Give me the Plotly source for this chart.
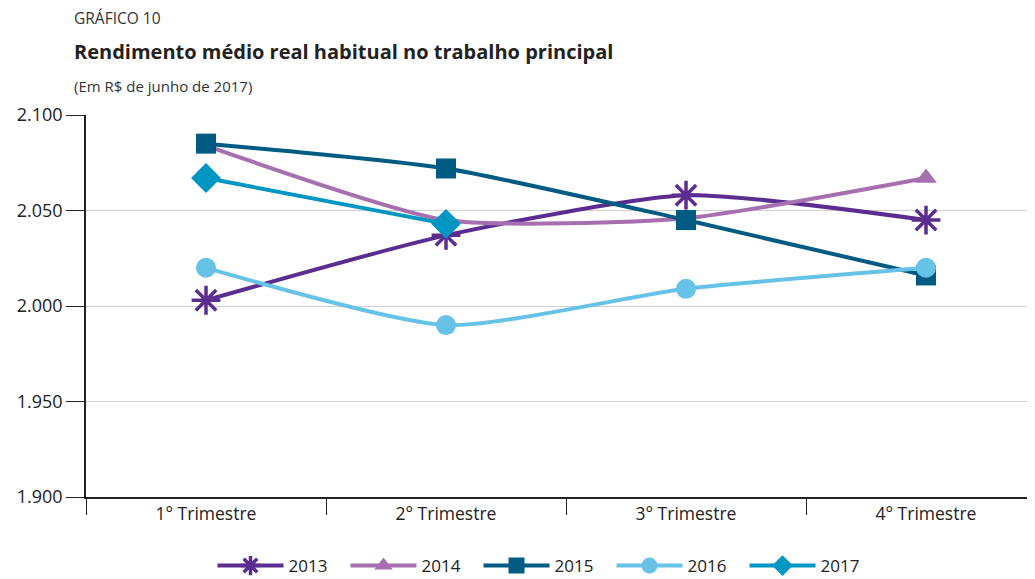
import plotly.graph_objects as go

trimestres = ["1° Trimestre", "2° Trimestre", "3° Trimestre", "4° Trimestre"]
rend_2013 = [2003, 2037, 2058, 2045]
rend_2014 = [2084, 2045, 2046, 2067]
rend_2015 = [2085, 2072, 2045, 2016]
rend_2016 = [2020, 1990, 2009, 2020]
rend_2017 = [2067, 2043]

series = [
    ("2013", rend_2013, "#5c2d91", "asterisk-open", 24),
    ("2014", rend_2014, "#a66fb0", "triangle-up", 19),
    ("2015", rend_2015, "#005b82", "square", 20),
    ("2016", rend_2016, "#67c2e7", "circle", 20),
    ("2017", rend_2017, "#0096c4", "diamond", 23),
]

fig = go.Figure()
for name, vals, color, symbol, size in series:
    fig.add_trace(go.Scatter(
        x=trimestres[:len(vals)], y=vals, name=name, mode="lines+markers",
        line=dict(color=color, width=4, shape="spline", smoothing=0.6),
        marker=dict(symbol=symbol, size=size, color=color,
                    line=dict(color=color, width=3.5 if symbol == "asterisk-open" else 0)),
    ))

# the page puts the figure 8px in from the top-left corner
OFF = 8
W, H = 1046 - OFF, 579 - OFF
L, R, T, B = 86 - OFF, 0, 115 - OFF, H - (497 - OFF)
ph = H - T - B
pw = W - L - R

def px(x):
    return (x - OFF - L) / pw

def py(y):
    return (H - B - (y - OFF)) / ph

fig.update_layout(
    width=W, height=H,
    margin=dict(l=L, r=R, t=T, b=B, autoexpand=False),
    paper_bgcolor="white", plot_bgcolor="white",
    font=dict(family="Open Sans", size=17, color="#222"),
    separators=",.",
    showlegend=True,
    legend=dict(orientation="h", x=px(545), xanchor="center", y=py(566), yanchor="middle",
                font=dict(size=17), itemwidth=66, entrywidth=52, tracegroupgap=0),
    xaxis=dict(
        showline=True, linecolor="#222", linewidth=1.5,
        ticks="outside", tickson="boundaries", ticklen=16, tickcolor="#222",
        showgrid=False, range=[-0.5, 3.5], tickfont=dict(size=17.5),
        automargin=False,
    ),
    yaxis=dict(
        range=[1900, 2100], tickvals=[1900, 1950, 2000, 2050, 2100], tickformat=",d",
        showline=True, linecolor="#222", linewidth=1.5,
        ticks="outside", ticklen=18, tickcolor="#222",
        showgrid=True, gridcolor="#d0d0d0", gridwidth=1, zeroline=False,
        tickfont=dict(size=18), automargin=False,
    ),
    annotations=[
        dict(text="GRÁFICO 10", x=px(72), y=py(18), xref="paper", yref="paper",
             xanchor="left", yanchor="middle", showarrow=False,
             font=dict(size=15.5, color="#333")),
        dict(text="<b>Rendimento médio real habitual no trabalho principal</b>",
             x=px(72), y=py(52), xref="paper", yref="paper",
             xanchor="left", yanchor="middle", showarrow=False,
             font=dict(size=20, color="#222")),
        dict(text="(Em R$ de junho de 2017)", x=px(72), y=py(86), xref="paper", yref="paper",
             xanchor="left", yanchor="middle", showarrow=False,
             font=dict(size=15, color="#333")),
    ],
)

fig.write_html("out.html")
